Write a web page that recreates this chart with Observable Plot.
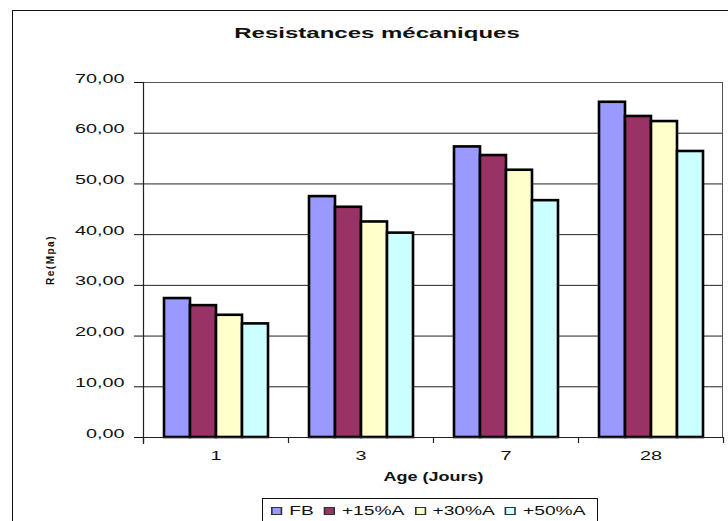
<!DOCTYPE html>
<html>
<head>
<meta charset="utf-8">
<script src="https://cdn.jsdelivr.net/npm/d3@7"></script>
<script src="https://cdn.jsdelivr.net/npm/@observablehq/plot@0.6"></script>
<style>
  body { margin: 0; background: #fff; font-family: "Liberation Sans", Arial, sans-serif; }
  #wrap { position: relative; width: 728px; height: 521px; overflow: hidden; background: #fff; }
  #border { position: absolute; left: 12px; top: 10px; width: 760px; height: 560px; border: 1.5px solid #111; box-sizing: border-box; }
  #title { position: absolute; left: 227px; top: 25px; width: 300px; text-align: center; font-weight: bold; font-size: 15px; line-height: 15px; color: #111; transform: scaleX(1.6); transform-origin: 50% 50%; white-space: nowrap; }
  #chart { position: absolute; left: 0; top: 0; }
  #legend { position: absolute; left: 262px; top: 498px; width: 336px; height: 26px; border: 1px solid #111; box-sizing: border-box; background: #fff; }
  #legend .inner { display: flex; align-items: center; height: 100%; padding-left: 5px; transform: scaleX(1.6); transform-origin: 0 50%; white-space: nowrap; }
  #legend .sw { width: 7px; height: 8px; border: 1px solid #333; box-sizing: border-box; margin-right: 4.4px; }
  #legend .lb { font-size: 12px; color: #111; margin-right: 6.2px; }
</style>
</head>
<body>
<div id="wrap">
  <div id="border"></div>
  <div id="chart"></div>
  <div id="title">Resistances mécaniques</div>
  <div id="legend"><div class="inner"></div></div>
</div>
<script>
// ---- data ----
const days = ["1", "3", "7", "28"];
const series = ["FB", "+15%A", "+30%A", "+50%A"];
const seriesColors = ["#9999FF", "#993366", "#FFFFCC", "#CCFFFF"];
const FB  = [27.4, 47.5, 57.3, 66.1];
const A15 = [26.0, 45.4, 55.6, 63.3];
const A30 = [24.1, 42.5, 52.7, 62.3];
const A50 = [22.4, 40.3, 46.7, 56.4];
const yTicks = [0, 10, 20, 30, 40, 50, 60, 70];
const titleText = "Resistances mécaniques";
const xLabel = "Age (Jours)";
const yLabel = "Re(Mpa)";

const valuesBySeries = [FB, A15, A30, A50];
const rows = [];
days.forEach((d, i) => series.forEach((s, j) => rows.push({day: d, series: s, value: valuesBySeries[j][i]})));

const plot = Plot.plot({
  width: 728,
  height: 521,
  marginTop: 82,
  marginRight: 5,
  marginBottom: 84,
  marginLeft: 142,
  style: {fontFamily: "'Liberation Sans', Arial, sans-serif", fontSize: "12px", color: "#111", background: "transparent"},
  fx: {domain: days, paddingInner: 0, paddingOuter: 0, label: xLabel},
  x: {domain: series, paddingInner: 0, paddingOuter: 0.7, axis: null},
  y: {domain: [0, 70], label: yLabel},
  color: {domain: series, range: seriesColors},
  marks: [
    Plot.ruleY(yTicks.filter(d => d > 0 && d < 70), {stroke: "#222", strokeWidth: 1}),
    Plot.barY(rows, {fx: "day", x: "series", y: "value", fill: "series", stroke: "#000", strokeWidth: 2.6}),
    Plot.axisY({ticks: yTicks, tickFormat: d => d.toFixed(2).replace(".", ","), tickSize: 9, tickPadding: 10,
                label: yLabel, labelAnchor: "center", labelOffset: 97}),
    Plot.axisFx({anchor: "bottom", tickSize: 0, tickPadding: 22, label: xLabel, labelAnchor: "center", labelOffset: 43})
  ]
});
document.getElementById("chart").appendChild(plot);

// ---- post-render: plot-area frame, category boundary ticks, text styling ----
const svg = d3.select(plot.tagName.toLowerCase() === "svg" ? plot : plot.querySelector("svg"));
const fxS = plot.scale("fx");
const yS = plot.scale("y");
const fxApply = fxS.apply ? fxS.apply : (d3.scaleBand().domain(fxS.domain).range(fxS.range));
const bw = fxS.bandwidth;
const bounds = days.map(d => fxApply(d));
bounds.push(fxApply(days[days.length - 1]) + bw);
const y0 = yS.apply(0), yTop = yS.apply(70);
const xL = bounds[0], xR = bounds[bounds.length - 1];
const g = svg.append("g").attr("stroke", "#222").attr("fill", "none");
g.append("line").attr("x1", xL).attr("x2", xR).attr("y1", yTop + 0.5).attr("y2", yTop + 0.5).attr("stroke", "#555");
g.append("line").attr("x1", xR - 0.5).attr("x2", xR - 0.5).attr("y1", yTop).attr("y2", y0).attr("stroke", "#555");
g.append("line").attr("x1", xL).attr("x2", xR).attr("y1", y0 + 0.5).attr("y2", y0 + 0.5).attr("stroke-width", 1.2);
g.append("line").attr("x1", xL + 0.5).attr("x2", xL + 0.5).attr("y1", yTop).attr("y2", y0 + 7).attr("stroke-width", 1.2);
bounds.forEach(b => g.append("line").attr("x1", b + 0.5).attr("x2", b + 0.5).attr("y1", y0).attr("y2", y0 + 6).attr("stroke-width", 1.2));

function stretch(el, sx, sy) {
  let t = el.getAttribute("transform") || "";
  const x = el.getAttribute("x"), y = el.getAttribute("y");
  if (x != null || y != null) {
    t += ` translate(${+x || 0},${+y || 0})`;
    el.removeAttribute("x"); el.removeAttribute("y");
  }
  el.setAttribute("transform", (t + ` scale(${sx},${sy})`).trim());
}
svg.selectAll("text").each(function() {
  const parentLabel = this.parentNode.getAttribute("aria-label") || "";
  if (/label/.test(parentLabel) && /y-axis/.test(parentLabel)) {
    this.textContent = yLabel;
    this.setAttribute("font-size", 10);
    this.setAttribute("font-weight", "bold");
    this.setAttribute("letter-spacing", 1.5);
  } else if (/label/.test(parentLabel)) {
    this.textContent = xLabel;
    this.setAttribute("font-size", 12);
    this.setAttribute("font-weight", "bold");
    stretch(this, 1.5, 1);
  } else {
    stretch(this, 1.65, 1);
  }
});

// ---- legend ----
const inner = d3.select("#legend .inner");
series.forEach((s, i) => {
  inner.append("div").attr("class", "sw").style("background", seriesColors[i]);
  inner.append("div").attr("class", "lb").text(s);
});
document.getElementById("title").textContent = titleText;
</script>
</body>
</html>
